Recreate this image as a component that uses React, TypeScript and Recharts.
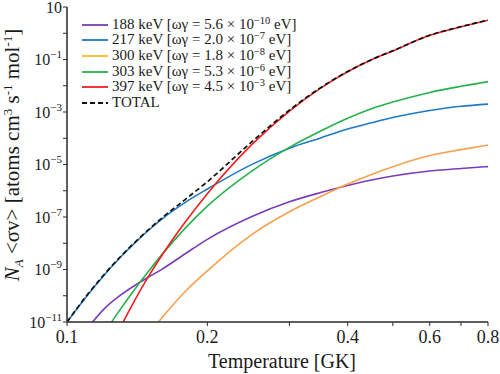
import React from "react";
import { LineChart, Line, XAxis, YAxis, Legend } from "recharts";

// Temperatures (GK) and log10 of the reaction rates
const TEMPS = [0.1, 0.11, 0.12, 0.13, 0.14, 0.15, 0.16, 0.18, 0.2, 0.25, 0.3, 0.35, 0.4, 0.45, 0.5, 0.6, 0.7, 0.8];
const LOG_R188 = [null, -11.3, -10.51, -9.99, -9.6, -9.278, -8.985, -8.38, -7.85, -6.97, -6.42, -6.07, -5.8, -5.59, -5.44, -5.25, -5.15, -5.08];
const LOG_R217 = [-11, -10.035, -9.225, -8.545, -7.975, -7.485, -7.069, -6.424, -5.934, -4.985, -4.378, -3.988, -3.649, -3.411, -3.209, -2.944, -2.782, -2.7];
const LOG_R300 = [null, null, null, null, null, -11.45, -10.83, -9.81, -9.05, -7.65, -6.8, -6.22, -5.746, -5.377, -5.083, -4.659, -4.434, -4.26];
const LOG_R303 = [null, null, -11.44, -10.53, -9.735, -9.035, -8.424, -7.396, -6.587, -5.231, -4.348, -3.724, -3.236, -2.879, -2.623, -2.254, -2.02, -1.843];
const LOG_R397 = [null, null, -12.49, -11.23, -10.15, -9.226, -8.446, -7.155, -6.111, -4.213, -2.962, -2.088, -1.465, -1.013, -0.672, -0.08, 0.248, 0.498];
const LOG_TOTAL = [-11, -10.012, -9.2, -8.525, -7.955, -7.46, -7.028, -6.309, -5.656, -4.111, -2.929, -2.073, -1.455, -1.006, -0.666, -0.076, 0.251, 0.5];

const X_TICKS = [0.1, 0.2, 0.3, 0.4, 0.5, 0.6, 0.7, 0.8];
const X_LABELED = [0.1, 0.2, 0.4, 0.6, 0.8];
const Y_TICKS = [1e-11, 1e-10, 1e-9, 1e-8, 1e-7, 1e-6, 1e-5, 1e-4, 1e-3, 1e-2, 1e-1, 1, 10];

const SERIES = [
  { key: "r188", name: "188 keV", wg: "5.6", exp: "−10", color: "#7a3db8", legendColor: "#7a3db8", values: LOG_R188 },
  { key: "r217", name: "217 keV", wg: "2.0", exp: "−7", color: "#1f78c8", legendColor: "#1f78c8", values: LOG_R217 },
  { key: "r300", name: "300 keV", wg: "1.8", exp: "−8", color: "#f9a04e", legendColor: "#fdb927", values: LOG_R300 },
  { key: "r303", name: "303 keV", wg: "5.3", exp: "−6", color: "#25b14b", legendColor: "#25b14b", values: LOG_R303 },
  { key: "r397", name: "397 keV", wg: "4.5", exp: "−3", color: "#f11f1f", legendColor: "#f11f1f", values: LOG_R397 },
];

const toVal = (e: number | null) => (e === null ? null : Math.pow(10, e));

const data = TEMPS.map((t, i) => {
  const row: any = { T: t, total: toVal(LOG_TOTAL[i]) };
  SERIES.forEach((s) => {
    row[s.key] = toVal(s.values[i]);
  });
  return row;
});

const FONT = "'Liberation Serif', 'Times New Roman', serif";
const AXIS = "#2a2a2a";

const YTick = (props: any) => {
  const { x, y, payload } = props;
  const e = Math.round(Math.log10(payload.value));
  if (Math.abs(e % 2) !== 1) return <g />;
  return (
    <text x={x} y={y} dy="0.36em" textAnchor="end" fontFamily={FONT} fontSize={16} fill="#222">
      10
      {e !== 1 && (
        <tspan dy={-7} fontSize={11}>
          {"−" + Math.abs(e)}
        </tspan>
      )}
    </text>
  );
};

const XTick = (props: any) => {
  const { x, y, payload } = props;
  const v = payload.value;
  if (!X_LABELED.some((l) => Math.abs(l - v) < 1e-9)) return <g />;
  return (
    <text x={x} y={y} dy="0.72em" textAnchor="middle" fontFamily={FONT} fontSize={18} fill="#222">
      {String(v)}
    </text>
  );
};

const LegendContent = () => {
  const rows = [
    ...SERIES.map((s) => ({ key: s.key, color: s.legendColor, dashed: false, s })),
    { key: "total", color: "#111", dashed: true, s: null as any },
  ];
  return (
    <div style={{ fontFamily: FONT, fontSize: 15, color: "#1a1a1a", whiteSpace: "nowrap" }}>
      {rows.map((r) => (
        <div key={r.key} style={{ display: "flex", alignItems: "center", height: 15.6 }}>
          <svg width={26} height={4} style={{ display: "block" }}>
            <line
              x1={0}
              y1={2}
              x2={26}
              y2={2}
              stroke={r.color}
              strokeWidth={1.8}
              strokeDasharray={r.dashed ? "5 3" : undefined}
            />
          </svg>
          <span style={{ marginLeft: 4, lineHeight: "15px" }}>
            {r.s ? (
              <>
                {r.s.name} [ωγ = {r.s.wg} × 10
                <span style={{ fontSize: 10.5, position: "relative", top: -5 }}>{r.s.exp}</span> eV]
              </>
            ) : (
              "TOTAL"
            )}
          </span>
        </div>
      ))}
    </div>
  );
};

const YLabel = () => (
  <text
    transform="rotate(-90, 19, 155)"
    x={19}
    y={155}
    textAnchor="middle"
    fontFamily={FONT}
    fontSize={21}
    fill="#1a1a1a"
  >
    <tspan fontStyle="italic">N</tspan>
    <tspan fontStyle="italic" fontSize={13} dy={4}>
      A
    </tspan>
    <tspan dy={-4}> &lt;σv&gt; [atoms cm</tspan>
    <tspan fontSize={13} dy={-7}>
      3
    </tspan>
    <tspan dy={7}> s</tspan>
    <tspan fontSize={13} dy={-7}>
      -1
    </tspan>
    <tspan dy={7}> mol</tspan>
    <tspan fontSize={13} dy={-7}>
      -1
    </tspan>
    <tspan dy={7}>]</tspan>
  </text>
);

const XLabel = () => (
  <text x={282} y={368} textAnchor="middle" fontFamily={FONT} fontSize={20} fill="#1a1a1a">
    Temperature [GK]
  </text>
);

export default function App() {
  return (
    <div style={{ position: "absolute", left: 0, top: 0, width: 500, height: 374, background: "#fff" }}>
      <LineChart width={500} height={374} data={data} margin={{ top: 7, right: 12, bottom: 0, left: 0 }}>
        <XAxis
          dataKey="T"
          type="number"
          scale="log"
          domain={[0.1, 0.8]}
          allowDataOverflow
          ticks={X_TICKS}
          interval={0}
          tick={<XTick />}
          tickSize={4}
          tickMargin={4}
          height={52}
          stroke={AXIS}
          strokeWidth={1.5}
          tickLine={{ stroke: AXIS, strokeWidth: 1 }}
          label={<XLabel />}
        />
        <XAxis
          xAxisId="top"
          orientation="top"
          dataKey="T"
          type="number"
          scale="log"
          domain={[0.1, 0.8]}
          allowDataOverflow
          height={0}
          tick={false}
          tickLine={false}
          stroke={AXIS}
          strokeWidth={1.5}
        />
        <YAxis
          type="number"
          scale="log"
          domain={[1e-11, 10]}
          allowDataOverflow
          ticks={Y_TICKS}
          interval={0}
          tick={<YTick />}
          tickSize={4}
          tickMargin={1}
          width={67}
          stroke={AXIS}
          strokeWidth={1.5}
          tickLine={{ stroke: AXIS, strokeWidth: 1 }}
          label={<YLabel />}
        />
        <YAxis
          yAxisId="right"
          orientation="right"
          type="number"
          domain={[0, 1]}
          width={0}
          tick={false}
          tickLine={false}
          stroke={AXIS}
          strokeWidth={1.5}
        />
        <Legend
          layout="vertical"
          align="center"
          verticalAlign="middle"
          content={<LegendContent />}
          wrapperStyle={{ left: 82, top: 17, width: 260, height: 96 }}
        />
        {SERIES.map((s) => (
          <Line
            key={s.key}
            dataKey={s.key}
            type="monotone"
            stroke={s.color}
            strokeWidth={1.6}
            dot={false}
            isAnimationActive={false}
            connectNulls={false}
          />
        ))}
        <Line
          dataKey="total"
          type="monotone"
          stroke="#111"
          strokeWidth={1.7}
          strokeDasharray="5 3"
          dot={false}
          isAnimationActive={false}
        />
      </LineChart>
    </div>
  );
}
